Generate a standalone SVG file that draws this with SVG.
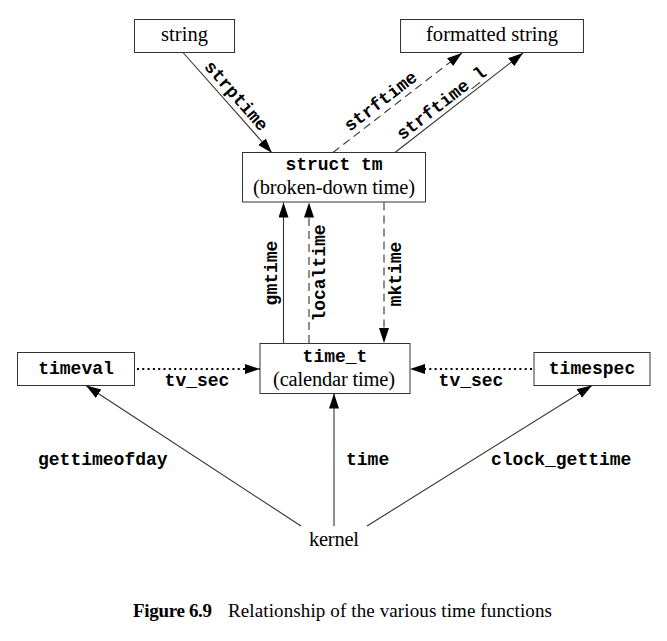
<svg xmlns="http://www.w3.org/2000/svg" width="667" height="641" viewBox="0 0 667 641">
  <style>
    .box { fill: #ffffff; stroke: #333333; stroke-width: 1; }
    .serif { font-family: "Liberation Serif", "Times New Roman", serif; font-size: 20.5px; fill: #000000; }
    .mono { font-family: "Liberation Mono", "Courier New", monospace; font-size: 18px; font-weight: bold; fill: #000000; }
    .line { fill: none; stroke: #333333; stroke-width: 1.1; }
    .dash { stroke-dasharray: 8 5; }
    .dot { stroke: #000000; stroke-width: 2.2; stroke-dasharray: 2 3.3; }
    .cap { font-family: "Liberation Serif", "Times New Roman", serif; font-size: 19px; fill: #000000; }
  </style>
  <defs>
    <marker id="arrow" markerUnits="userSpaceOnUse" markerWidth="15" markerHeight="11" refX="15" refY="5" orient="auto">
      <path d="M0,0 L15,5 L0,10 z" fill="#000000"/>
    </marker>
  </defs>
  <rect width="667" height="641" fill="#ffffff"/>

  <g id="connectors">
    <!-- string -> struct tm -->
    <line class="line" x1="183" y1="52.5" x2="272" y2="153" marker-end="url(#arrow)"/>
    <!-- struct tm -> formatted string -->
    <line class="line dash" x1="333" y1="152.5" x2="462" y2="53" marker-end="url(#arrow)"/>
    <line class="line" x1="395" y1="152.5" x2="523" y2="53" marker-end="url(#arrow)"/>
    <!-- time_t <-> struct tm -->
    <line class="line" x1="283.5" y1="343" x2="283.5" y2="202.5" marker-end="url(#arrow)"/>
    <line class="line dash" x1="309" y1="343" x2="309" y2="202.5" marker-end="url(#arrow)"/>
    <line class="line dash" x1="384" y1="202.5" x2="384" y2="343" marker-end="url(#arrow)"/>
    <!-- tv_sec fields -->
    <line class="line dot" x1="137" y1="369" x2="260" y2="369" marker-end="url(#arrow)"/>
    <line class="line dot" x1="532" y1="369" x2="410" y2="369" marker-end="url(#arrow)"/>
    <!-- kernel -->
    <line class="line" x1="301" y1="526" x2="86" y2="385.5" marker-end="url(#arrow)"/>
    <line class="line" x1="334" y1="526" x2="334" y2="393.5" marker-end="url(#arrow)"/>
    <line class="line" x1="367" y1="526" x2="592" y2="385.5" marker-end="url(#arrow)"/>

    <!-- connector labels -->
    <text class="mono" transform="translate(183,52.5) rotate(48.9)" x="67.6" y="-6" text-anchor="middle">strptime</text>
    <text class="mono" transform="translate(333,152.5) rotate(-37.5)" x="69" y="-6" text-anchor="middle">strftime</text>
    <text class="mono" transform="translate(395,152.5) rotate(-37.7)" x="67" y="-5" text-anchor="middle">strftime_l</text>
    <text class="mono" transform="translate(277,273) rotate(-90)" text-anchor="middle">gmtime</text>
    <text class="mono" transform="translate(325,273) rotate(-90)" text-anchor="middle">localtime</text>
    <text class="mono" transform="translate(401,274) rotate(-90)" text-anchor="middle">mktime</text>
    <text class="mono" x="197" y="386" text-anchor="middle">tv_sec</text>
    <text class="mono" x="471" y="386" text-anchor="middle">tv_sec</text>
    <text class="mono" x="38" y="465">gettimeofday</text>
    <text class="mono" x="346" y="465">time</text>
    <text class="mono" x="491" y="465">clock_gettime</text>
  </g>

  <g id="string">
    <rect class="box" x="134.5" y="19.5" width="100" height="33"/>
    <text class="serif" x="184.5" y="41" text-anchor="middle" textLength="47">string</text>
  </g>

  <g id="formatted-string">
    <rect class="box" x="400.5" y="19.5" width="183" height="33"/>
    <text class="serif" x="492" y="41" text-anchor="middle" textLength="132">formatted string</text>
  </g>

  <g id="struct-tm">
    <rect class="box" x="242.5" y="152.5" width="183" height="49.5"/>
    <text class="mono" x="334" y="170" text-anchor="middle">struct tm</text>
    <text class="serif" x="334" y="193.5" text-anchor="middle" textLength="162">(broken-down time)</text>
  </g>

  <g id="time-t">
    <rect class="box" x="260" y="343.5" width="150" height="50"/>
    <text class="mono" x="335" y="362" text-anchor="middle">time_t</text>
    <text class="serif" x="334" y="385.5" text-anchor="middle" textLength="122">(calendar time)</text>
  </g>

  <g id="timeval">
    <rect class="box" x="17.5" y="352.5" width="117" height="33"/>
    <text class="mono" x="76" y="374" text-anchor="middle">timeval</text>
  </g>

  <g id="timespec">
    <rect class="box" x="534" y="352.5" width="116" height="33"/>
    <text class="mono" x="592" y="374" text-anchor="middle">timespec</text>
  </g>

  <g id="kernel">
    <text class="serif" x="334" y="545.5" text-anchor="middle" textLength="50">kernel</text>
  </g>

  <g id="caption">
    <text class="cap" x="133" y="617" font-weight="bold" textLength="79">Figure 6.9</text>
    <text class="cap" x="228" y="617" textLength="324">Relationship of the various time functions</text>
  </g>
</svg>
